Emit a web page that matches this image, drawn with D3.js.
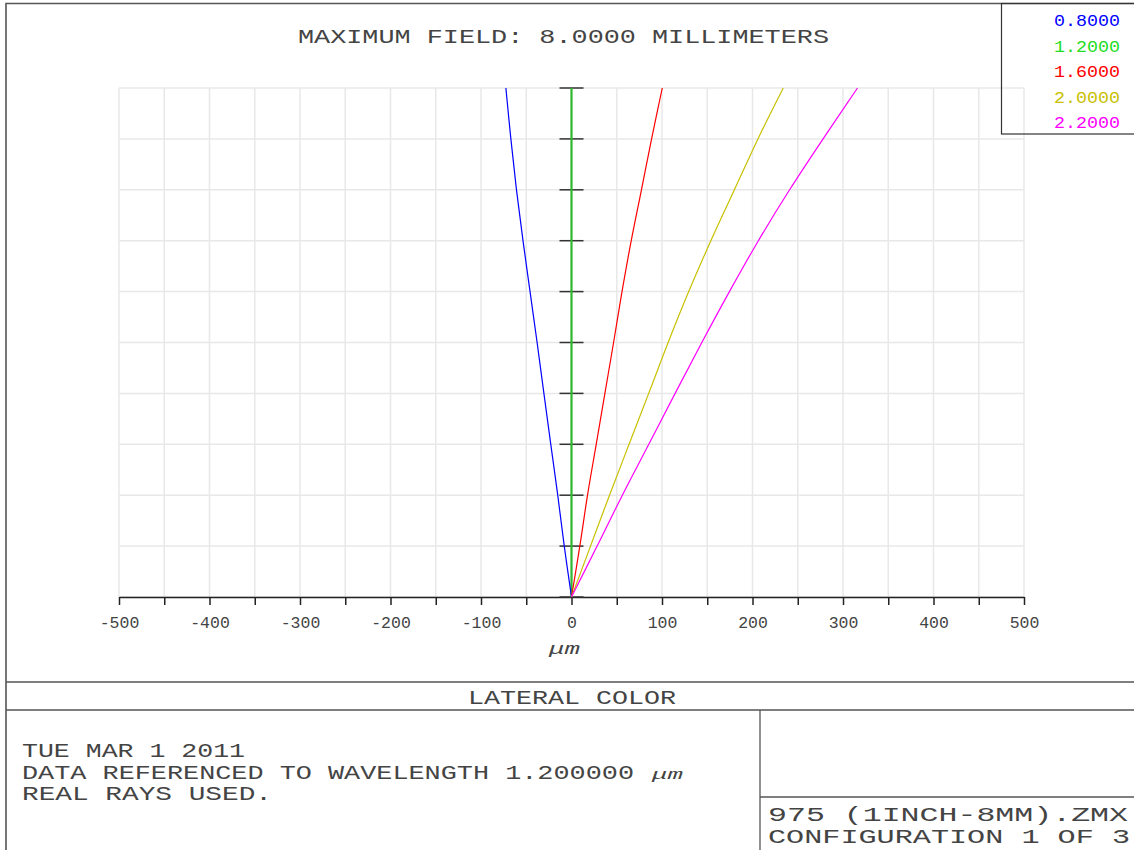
<!DOCTYPE html>
<html>
<head>
<meta charset="utf-8">
<script src="https://cdn.jsdelivr.net/npm/d3@7"></script>
<style>
html,body{margin:0;padding:0;background:#fff;}
svg{display:block;}
text{font-family:"Liberation Mono","DejaVu Sans Mono",monospace;fill:#444;}
</style>
</head>
<body>
<svg id="chart" width="1134" height="850"></svg>
<script>
// ---- data ----
const fieldFractions = [0, 0.1, 0.2, 0.3, 0.4, 0.5, 0.6, 0.7, 0.8, 0.9, 1.0];
const wavelengths = ["0.8000", "1.2000", "1.6000", "2.0000", "2.2000"];
const seriesColors = ["#0000ff", "#00e000", "#ff0000", "#c8c000", "#ff00ff"];
const lateral08 = [0, -8, -15.2, -22.9, -30.5, -38, -45.8, -53.6, -60.8, -67, -72.5];
const lateral12 = [0, 0, 0, 0, 0, 0, 0, 0, 0, 0, 0];
const lateral16 = [0, 9.2, 17.7, 27.3, 36.9, 46.5, 55.8, 66, 77.3, 88.5, 100.3];
const lateral20 = [0, 21, 42, 63.6, 85.3, 106.8, 129.5, 154, 180, 206, 234];
const lateral22 = [0, 28.3, 56.2, 85.4, 114.5, 144, 174.5, 206.5, 241, 278, 316];
const xTickValues = d3.range(-500, 501, 50);
const xTickLabels = ["-500","-400","-300","-200","-100","0","100","200","300","400","500"];
const titleText = "MAXIMUM FIELD: 8.0000 MILLIMETERS";
const axisLabel = "\u03bcm";
const footerTitle = "LATERAL COLOR";
const infoLines = ["TUE MAR 1 2011", "DATA REFERENCED TO WAVELENGTH 1.200000", "REAL RAYS USED."];
const fileLines = ["975 (1INCH-8MM).ZMX", "CONFIGURATION 1 OF 3"];

const seriesValues = [lateral08, lateral12, lateral16, lateral20, lateral22];

const svg = d3.select("#chart");
const W = 1134, H = 850;
const x = d3.scaleLinear().domain([-500, 500]).range([119, 1024]);
const y = d3.scaleLinear().domain([0, 1]).range([597, 88]);

// outer frame
const frame = svg.append("g").attr("stroke", "#555").attr("fill", "none");
frame.append("path").attr("d", `M6,${H} V3.5 H${W}`).attr("stroke-width", 1.6);
frame.append("line").attr("x1", 6).attr("x2", W).attr("y1", 682).attr("y2", 682).attr("stroke-width", 1.3);
frame.append("line").attr("x1", 6).attr("x2", W).attr("y1", 710).attr("y2", 710).attr("stroke-width", 1.3);
frame.append("line").attr("x1", 760).attr("x2", 760).attr("y1", 710).attr("y2", H).attr("stroke-width", 1.3);
frame.append("line").attr("x1", 760).attr("x2", W).attr("y1", 797).attr("y2", 797).attr("stroke-width", 1.3);

// grid
const grid = svg.append("g").attr("stroke", "#e8e8e8").attr("stroke-width", 1.5);
grid.selectAll("line.v").data(xTickValues).join("line")
  .attr("x1", d => x(d)).attr("x2", d => x(d)).attr("y1", y(1)).attr("y2", y(0));
grid.selectAll("line.h").data(fieldFractions).join("line")
  .attr("x1", x(-500)).attr("x2", x(500)).attr("y1", d => y(d)).attr("y2", d => y(d));

// x axis
const xAxis = d3.axisBottom(x).tickValues(xTickValues).tickSize(8).tickSizeOuter(0)
  .tickFormat(d => { const i = xTickLabels.indexOf(String(d)); return i >= 0 ? xTickLabels[i] : ""; });
const ax = svg.append("g").attr("transform", `translate(0,${y(0)})`).call(xAxis);
ax.select(".domain").attr("stroke", "#222").attr("stroke-width", 1.5);
ax.selectAll(".tick line").attr("stroke", "#222").attr("stroke-width", 1.5);
ax.selectAll(".tick text").attr("font-family", "Liberation Mono, DejaVu Sans Mono, monospace")
  .attr("font-size", 16.5).attr("fill", "#444").attr("dy", 0).attr("y", 31);

// reference wavelength line with ticks
svg.append("g").selectAll("line").data(fieldFractions).join("line")
  .attr("x1", x(0) - 12).attr("x2", x(0) + 12).attr("y1", d => y(d)).attr("y2", d => y(d))
  .attr("stroke", "#333").attr("stroke-width", 1.5);

const line = d3.line().x(d => x(d[0])).y(d => y(d[1])).curve(d3.curveCatmullRom);
const order = [1, 0, 2, 3, 4];
svg.append("g").selectAll("path").data(order).join("path")
  .attr("d", i => line(seriesValues[i].map((v, k) => [v, fieldFractions[k]])))
  .attr("fill", "none")
  .attr("stroke", i => i === 1 ? "#30b830" : seriesColors[i])
  .attr("stroke-width", i => i === 1 ? 2.2 : 1.2);

// legend
svg.append("rect").attr("x", 1001.5).attr("y", 3.5).attr("width", 140).attr("height", 130.5)
  .attr("fill", "none").attr("stroke", "#333").attr("stroke-width", 1.2);
svg.append("g").selectAll("text").data(wavelengths).join("text")
  .attr("x", 1054).attr("y", (d, i) => 26 + i * 25.5)
  .attr("font-size", 17).attr("textLength", 66).attr("lengthAdjust", "spacingAndGlyphs")
  .style("fill", (d, i) => i === 1 ? "#22dd22" : seriesColors[i])
  .text(d => d);

// texts
function txt(s, x0, y0, fs, len) {
  return svg.append("text").attr("x", x0).attr("y", y0).attr("font-size", fs)
    .attr("textLength", len).attr("lengthAdjust", "spacingAndGlyphs").text(s);
}
txt(titleText, 298, 43, 20, 531);
svg.append("text").attr("x", 549).attr("y", 654).attr("font-size", 17)
  .attr("font-style", "italic").attr("textLength", 31).attr("lengthAdjust", "spacingAndGlyphs").text(axisLabel);
txt(footerTitle, 468, 704, 20, 208);
txt(infoLines[0], 22, 757, 21, 223);
txt(infoLines[1], 22, 779, 21, 612);
svg.append("text").attr("x", 652).attr("y", 779).attr("font-size", 15)
  .attr("font-style", "italic").attr("textLength", 31).attr("lengthAdjust", "spacingAndGlyphs").text(axisLabel);
txt(infoLines[2], 22, 800, 21, 250);
txt(fileLines[0], 768, 821, 21, 360);
txt(fileLines[1], 768, 843, 21, 362);
</script>
</body>
</html>
